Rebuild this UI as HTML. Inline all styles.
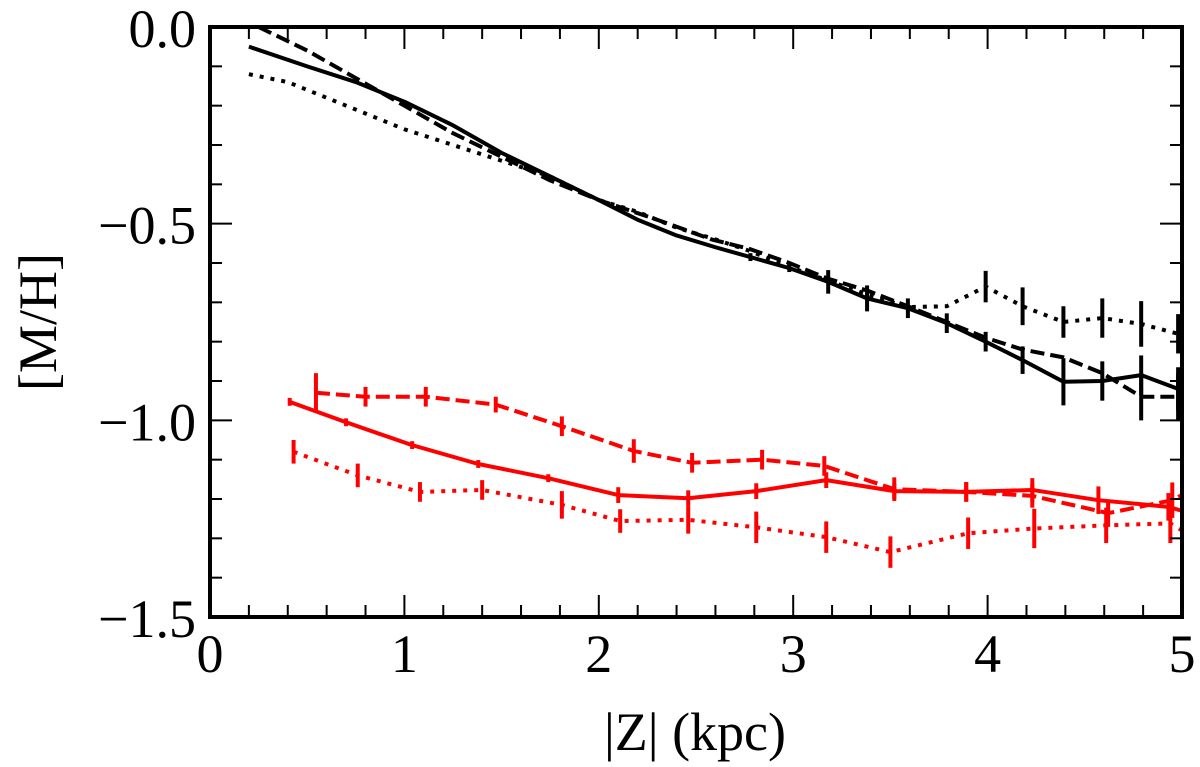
<!DOCTYPE html>
<html><head><meta charset="utf-8"><style>
body{margin:0;background:#fff}
svg text{font-family:"Liberation Serif",serif;fill:#000}
</style></head><body>
<svg id="chart" width="1200" height="762" viewBox="0 0 1200 762" xmlns="http://www.w3.org/2000/svg">
<g id="series"></g>
<g id="axes"></g>
<text x="695" y="750" font-size="54" text-anchor="middle">|Z| (kpc)</text>
<text transform="translate(56,322) rotate(-90)" font-size="54" text-anchor="middle">[M/H]</text>
</svg>
<script>
const xTicks=[0,1,2,3,4,5];
const xTickLabels=["0","1","2","3","4","5"];
const yTicks=[0,-0.5,-1,-1.5];
const yTickLabels=["0.0","\u22120.5","\u22121.0","\u22121.5"];

const bSolidX=[0.2,0.5,0.75,1.0,1.25,1.5,1.75,2.0,2.2,2.4,2.6,2.78,2.98,3.18,3.38,3.59,3.79,3.99,4.18,4.39,4.59,4.79,4.98];
const bSolidY=[-0.05,-0.10,-0.14,-0.19,-0.25,-0.32,-0.38,-0.44,-0.49,-0.53,-0.56,-0.585,-0.613,-0.648,-0.69,-0.715,-0.753,-0.80,-0.847,-0.902,-0.90,-0.885,-0.92];
const bSolidE=[0,0,0,0,0,0,0,0,0,0,0,0.01,0.01,0.03,0.033,0.025,0.025,0.025,0.035,0.06,0.05,0.05,0.055];

const bDashX=[0.25,0.5,0.75,1.0,1.25,1.5,1.75,2.0,2.3,2.58,2.78,2.98,3.18,3.38,3.59,3.79,3.99,4.18,4.39,4.59,4.79,4.98];
const bDashY=[0.0,-0.06,-0.13,-0.20,-0.27,-0.33,-0.39,-0.44,-0.49,-0.54,-0.565,-0.60,-0.64,-0.67,-0.71,-0.75,-0.79,-0.82,-0.84,-0.88,-0.94,-0.94];
const bDashE=[0,0,0,0,0,0,0,0,0,0,0,0,0,0,0,0,0,0,0,0,0.06,0.06];

const bDotX=[0.2,0.4,0.6,0.8,1.0,1.25,1.5,1.75,2.0,2.2,2.4,2.6,2.78,2.98,3.18,3.38,3.59,3.79,3.99,4.18,4.39,4.59,4.79,4.98];
const bDotY=[-0.12,-0.14,-0.18,-0.22,-0.26,-0.30,-0.34,-0.38,-0.44,-0.47,-0.51,-0.54,-0.57,-0.61,-0.645,-0.68,-0.712,-0.71,-0.66,-0.71,-0.75,-0.74,-0.755,-0.78];
const bDotE=[0,0,0,0,0,0,0,0,0,0,0,0,0,0,0,0,0,0,0.04,0.048,0.04,0.05,0.058,0.05];

const rSolidX=[0.41,0.70,1.04,1.38,1.74,2.10,2.46,2.81,3.17,3.52,3.89,4.23,4.57,4.93,5.0];
const rSolidY=[-0.953,-1.005,-1.063,-1.111,-1.147,-1.19,-1.198,-1.18,-1.152,-1.18,-1.182,-1.177,-1.203,-1.22,-1.23];
const rSolidE=[0.01,0.01,0.01,0.01,0.01,0.02,0.02,0.02,0.02,0.02,0.025,0.03,0.035,0.035,0];

const rDashX=[0.545,0.80,1.11,1.47,1.81,2.18,2.48,2.84,3.16,3.52,3.89,4.23,4.62,4.95,5.0];
const rDashY=[-0.93,-0.94,-0.94,-0.96,-1.015,-1.078,-1.108,-1.10,-1.116,-1.175,-1.182,-1.192,-1.236,-1.203,-1.19];
const rDashE=[0.05,0.025,0.025,0.02,0.025,0.03,0.025,0.025,0.025,0.03,0.025,0.03,0.035,0.045,0];

const rDotX=[0.43,0.76,1.08,1.40,1.81,2.11,2.46,2.81,3.17,3.50,3.90,4.24,4.61,4.94,5.0];
const rDotY=[-1.08,-1.14,-1.182,-1.177,-1.215,-1.256,-1.253,-1.272,-1.297,-1.335,-1.287,-1.275,-1.267,-1.262,-1.28];
const rDotE=[0.03,0.03,0.025,0.025,0.035,0.03,0.035,0.04,0.04,0.04,0.04,0.05,0.045,0.05,0];

const X0=210,X1=1182,Y0=27,Y1=617;
const sx=v=>X0+(v-0)/5*(X1-X0);
const sy=v=>Y0+(0-v)/1.5*(Y1-Y0);
const NS="http://www.w3.org/2000/svg";
const mk=(t,a)=>{const e=document.createElementNS(NS,t);for(const k in a)e.setAttribute(k,a[k]);return e;};
const S=document.getElementById('series'),A=document.getElementById('axes');

function drawSeries(xs,ys,es,color,dash,name){
  const g=mk('g',{});
  
  
  const p=mk('polyline',{points:xs.map((x,i)=>sx(x)+','+sy(ys[i])).join(' '),fill:'none',stroke:color,'stroke-width':4,'stroke-dasharray':dash,'stroke-linejoin':'round'});
  
  
  g.appendChild(p);
  xs.forEach((x,i)=>{if(!es[i])return;
    const l=mk('line',{x1:sx(x),x2:sx(x),y1:sy(ys[i]+es[i]),y2:sy(ys[i]-es[i]),stroke:color,'stroke-width':4});
    
    
    g.appendChild(l);});
  S.appendChild(g);
}
const clip=mk('clipPath',{id:'c'});clip.appendChild(mk('rect',{x:X0,y:Y0-2,width:X1-X0,height:Y1-Y0+4}));
document.getElementById('chart').prepend(clip);
S.setAttribute('clip-path','url(#c)');
drawSeries(bSolidX,bSolidY,bSolidE,'#000','','black-solid-series');
drawSeries(bDashX,bDashY,bDashE,'#000','14 6','black-dashed-series');
drawSeries(bDotX,bDotY,bDotE,'#000','4 7','black-dotted-series');
drawSeries(rSolidX,rSolidY,rSolidE,'#f00','','red-solid-series');
drawSeries(rDashX,rDashY,rDashE,'#f00','14 6','red-dashed-series');
drawSeries(rDotX,rDotY,rDotE,'#f00','4 7','red-dotted-series');

for(let i=0;i<=25;i++){const v=i*0.2,x=sx(v),maj=i%5===0,L=maj?22:12;
  A.appendChild(mk('line',{x1:x,x2:x,y1:Y1,y2:Y1-L,stroke:'#000','stroke-width':2}));
  A.appendChild(mk('line',{x1:x,x2:x,y1:Y0,y2:Y0+L,stroke:'#000','stroke-width':2}));}
for(let i=0;i<=15;i++){const v=-i*0.1,y=sy(v),maj=i%5===0,L=maj?22:12;
  A.appendChild(mk('line',{x1:X0,x2:X0+L,y1:y,y2:y,stroke:'#000','stroke-width':2}));
  A.appendChild(mk('line',{x1:X1,x2:X1-L,y1:y,y2:y,stroke:'#000','stroke-width':2}));}
const fr=mk('rect',{x:X0,y:Y0,width:X1-X0,height:Y1-Y0,fill:'none',stroke:'#000','stroke-width':4});


A.appendChild(fr);
xTicks.forEach((v,i)=>{const t=mk('text',{x:sx(v),y:672,'font-size':54,'text-anchor':'middle'});t.textContent=xTickLabels[i];
  
  
  A.appendChild(t);});
yTicks.forEach((v,i)=>{const t=mk('text',{x:196,y:sy(v)+20,'font-size':54,'text-anchor':'end'});t.textContent=yTickLabels[i];
  
  
  A.appendChild(t);});
</script>
</body></html>
